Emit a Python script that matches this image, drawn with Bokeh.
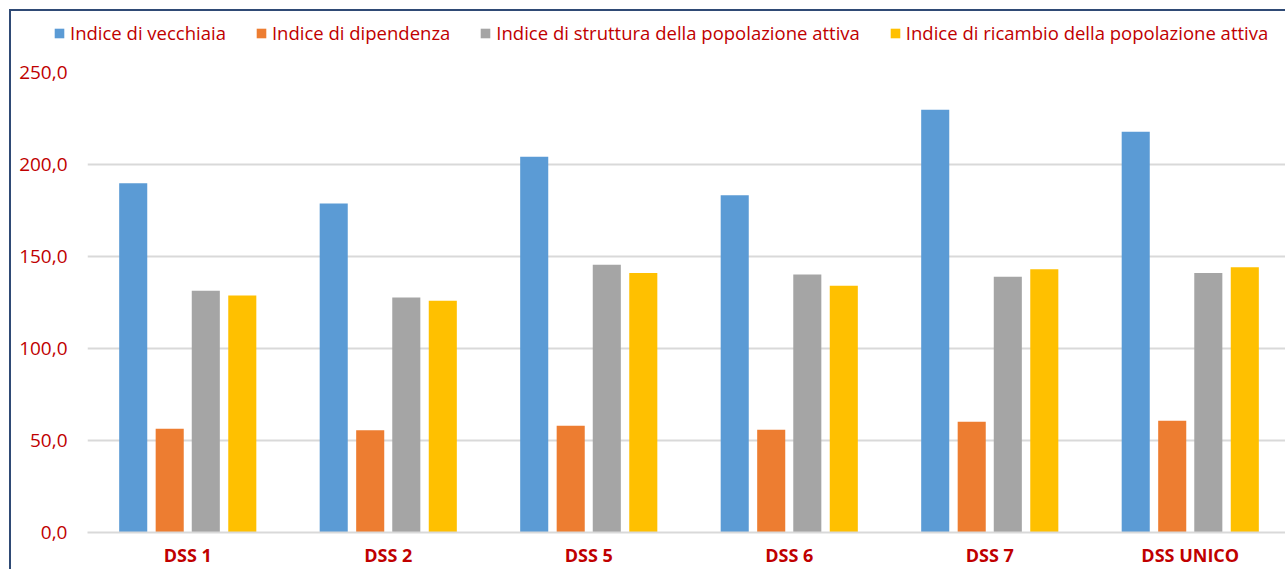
from bokeh.plotting import figure
from bokeh.layouts import column
from bokeh.models import FixedTicker, Legend, LegendItem, ColumnDataSource, CustomJSTickFormatter
from bokeh.transform import dodge
from bokeh.embed import file_html
from bokeh.resources import INLINE

categories = ["DSS 1", "DSS 2", "DSS 5", "DSS 6", "DSS 7", "DSS UNICO"]
series_names = ["Indice di vecchiaia", "Indice di dipendenza",
                "Indice di struttura della popolazione attiva",
                "Indice di ricambio della popolazione attiva"]
vecchiaia = [189.8, 178.8, 204.2, 183.3, 229.7, 217.8]
dipendenza = [56.4, 55.6, 58.0, 55.8, 60.2, 60.7]
struttura = [131.4, 127.7, 145.5, 140.2, 139.0, 141.1]
ricambio = [128.8, 126.0, 141.1, 134.1, 143.1, 144.2]
y_ticks = [0, 50, 100, 150, 200, 250]

colors = ["#5B9BD5", "#ED7D31", "#A5A5A5", "#FFC000"]
RED = "#C00000"
FONT = "Open Sans"

xpos = [i + 0.5 for i in range(len(categories))]
src = ColumnDataSource(dict(x=xpos, v=vecchiaia, d=dipendenza, s=struttura, r=ricambio))
cols = ["v", "d", "s", "r"]
offsets = [-0.272, -0.09, 0.09, 0.272]

# legend strip (same bars drawn out of view, used only for the legend)
lg = figure(width=1274, height=45, output_backend="svg", toolbar_location=None,
            x_range=(0, 5.975), y_range=(1000, 1001), x_axis_type=None, y_axis_type=None,
            min_border_left=0, min_border_right=0, min_border_top=0, min_border_bottom=0)
if "frame_align" in lg.properties():
    lg.frame_align = False
lg.outline_line_color = None
lg.grid.visible = False
lg_renderers = []
for c, off, col in zip(cols, offsets, colors):
    r = lg.vbar(x=dodge("x", off), top=c, width=0.14, bottom=0, source=src,
                fill_color=col, line_color=None)
    lg_renderers.append(r)
legend = Legend(items=[LegendItem(label=n, renderers=[r]) for n, r in zip(series_names, lg_renderers)],
                orientation="horizontal", location=(42, 11),
                glyph_width=12, glyph_height=12, label_standoff=5, spacing=29,
                padding=0, margin=0, border_line_color=None, background_fill_alpha=0,
                label_text_font=FONT, label_text_font_size="18.5px", label_text_color=RED)
lg.add_layout(legend, "center")

p = figure(width=1274, height=513, output_backend="svg", toolbar_location=None,
           x_range=(0, 5.975), y_range=(0, 250),
           min_border_left=76, min_border_right=0, min_border_top=16, min_border_bottom=37)
if "frame_align" in p.properties():
    p.frame_align = False
p.outline_line_color = None

for c, off, col in zip(cols, offsets, colors):
    p.vbar(x=dodge("x", off), top=c, width=0.14, bottom=0, source=src,
           fill_color=col, line_color=None)

p.xgrid.grid_line_color = None
p.ygrid.grid_line_color = "#D9D9D9"
p.ygrid.grid_line_width = 2
p.yaxis.ticker = FixedTicker(ticks=y_ticks)
p.yaxis.formatter = CustomJSTickFormatter(code="return tick.toFixed(1).replace('.', ',');")
p.yaxis.axis_line_color = None
p.yaxis.major_tick_line_color = None
p.yaxis.major_tick_out = 0
p.yaxis.major_tick_in = 0
p.yaxis.minor_tick_line_color = None
p.yaxis.major_label_text_font = FONT
p.yaxis.major_label_text_font_size = "19px"
p.yaxis.major_label_text_color = RED
p.yaxis.major_label_standoff = 20

p.xaxis.ticker = FixedTicker(ticks=xpos)
p.xaxis.major_label_overrides = {x: c for x, c in zip(xpos, categories)}
p.xaxis.axis_line_color = "#D9D9D9"
p.xaxis.axis_line_width = 2
p.xaxis.major_tick_line_color = None
p.xaxis.major_tick_out = 0
p.xaxis.major_tick_in = 0
p.xaxis.minor_tick_line_color = None
p.xaxis.major_label_text_font = FONT
p.xaxis.major_label_text_font_size = "18px"
p.xaxis.major_label_text_font_style = "bold"
p.xaxis.major_label_text_color = RED
p.xaxis.major_label_standoff = 10

layout = column(lg, p, spacing=0)
layout.styles = {"margin-left": "9px", "margin-top": "9px",
                 "border-left": "2px solid #2F4A75", "border-top": "2px solid #2F4A75"}

open("out.html", "w").write(file_html(layout, INLINE))
